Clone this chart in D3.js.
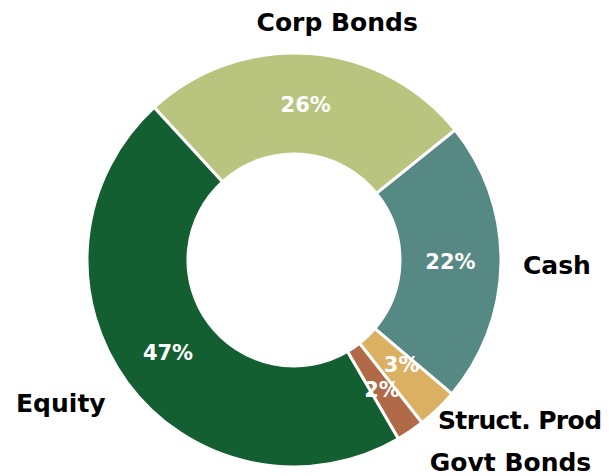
<!DOCTYPE html>
<html>
<head>
<meta charset="utf-8">
<script src="https://cdn.jsdelivr.net/npm/d3@7"></script>
<style>
  body { margin: 0; background: #fff; }
  svg text { font-family: "DejaVu Sans", sans-serif; font-weight: bold; }
</style>
</head>
<body>
<div id="chart"></div>
<script>
// slice order clockwise, starting at the Equity / Corp Bonds edge
const categories = ["Corp Bonds", "Cash", "Struct. Prod", "Govt Bonds", "Equity"];
const shares = [26.0, 22.0, 3.2, 2.2, 46.6];
const colors = ["#b9c47f", "#568983", "#dbb062", "#b06a48", "#135f31"];

// small nudges so the labels sit like the original
const labelShift = [[26, -10], [0, 2], [-15, -5], [7, 13], [-4, 7]];
const pctShift = [[0, 0], [0, 0], [-1, -8], [0, 0], [0, 0]];

const width = 609, height = 476;
const cx = 294, cy = 260;
const outerR = 207, innerR = 106;

const svg = d3.select("#chart").append("svg")
  .attr("width", width)
  .attr("height", height);

const g = svg.append("g").attr("transform", `translate(${cx},${cy})`);

const pie = d3.pie()
  .sort(null)
  .value(d => d.value)
  .startAngle(-42.5 * Math.PI / 180)
  .endAngle((360 - 42.5) * Math.PI / 180);

const data = categories.map((c, i) => ({
  name: c, value: shares[i], color: colors[i], shift: labelShift[i], pshift: pctShift[i]
}));
const arcs = pie(data);

const arc = d3.arc().innerRadius(innerR).outerRadius(outerR);

g.selectAll("path")
  .data(arcs)
  .enter()
  .append("path")
  .attr("d", arc)
  .attr("fill", d => d.data.color)
  .attr("stroke", "#fff")
  .attr("stroke-width", 3);

// percentages inside the ring
g.selectAll("text.pct")
  .data(arcs)
  .enter()
  .append("text")
  .attr("class", "pct")
  .attr("transform", d => {
    const c = arc.centroid(d);
    return `translate(${c[0] + d.data.pshift[0]},${c[1] + d.data.pshift[1]})`;
  })
  .attr("text-anchor", "middle")
  .attr("dy", "0.36em")
  .attr("fill", "#fff")
  .attr("font-size", "21px")
  .text(d => Math.round(d.data.value) + "%");

// category names outside
const labelR = outerR + 22;
g.selectAll("text.name")
  .data(arcs)
  .enter()
  .append("text")
  .attr("class", "name")
  .attr("x", d => {
    const a = (d.startAngle + d.endAngle) / 2;
    return labelR * Math.sin(a) + d.data.shift[0];
  })
  .attr("y", d => {
    const a = (d.startAngle + d.endAngle) / 2;
    return -labelR * Math.cos(a) + d.data.shift[1];
  })
  .attr("dy", "0.36em")
  .attr("text-anchor", d => {
    const s = Math.sin((d.startAngle + d.endAngle) / 2);
    if (s > 0.3) return "start";
    if (s < -0.3) return "end";
    return "middle";
  })
  .attr("fill", "#000")
  .attr("font-size", "25px")
  .attr("letter-spacing", d => d.data.name.length > 10 ? "-0.6px" : null)
  .text(d => d.data.name);
</script>
</body>
</html>
